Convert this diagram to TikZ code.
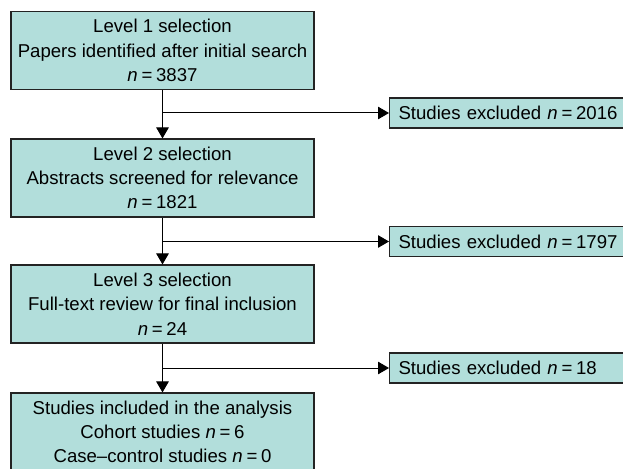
\documentclass[tikz,border=0pt]{standalone}
\usepackage{fontspec}
\setmainfont{Liberation Sans}
\usetikzlibrary{arrows.meta}
\definecolor{boxfill}{RGB}{178,222,219}
\definecolor{boxline}{RGB}{35,35,35}
\newcommand{\nn}[1]{\textit{n}\hspace{0.2em}=\hspace{0.2em}#1}
\begin{document}
\begin{tikzpicture}[x=1pt,y=-1pt,
  mainbox/.style={draw=boxline, fill=boxfill, line width=1.1pt, minimum width=303pt,
    minimum height=78pt, inner sep=0pt, align=center,
    font=\fontsize{18.6}{24.3}\selectfont},
  exbox/.style={draw=boxline, fill=boxfill, line width=1.1pt, minimum width=260pt,
    minimum height=30pt, text width=242pt, inner xsep=9pt, inner ysep=0pt, align=left,
    anchor=west, font=\fontsize{18.6}{24.3}\selectfont},
  conn/.style={line width=1pt, black},
  arr/.style={conn, -{Triangle[length=11pt,width=12.5pt]}}]
\useasboundingbox (0,0) rectangle (623,468);
\clip (0,0) rectangle (623,468);
\node[mainbox] (l1) at (162.5,50.5) {Level 1 selection\\Papers identified after initial search\\\nn{3837}};
\node[mainbox] (l2) at (162.5,178) {Level 2 selection\\Abstracts screened for relevance\\\nn{1821}};
\node[mainbox] (l3) at (162.5,304) {Level 3 selection\\Full-text review for final inclusion\\\nn{24}};
\node[mainbox] (l4) at (162.5,432) {Studies included in the analysis\\Cohort studies \nn{6}\\Case--control studies \nn{0}};
\node[exbox] (e1) at (389,113) {Studies excluded \nn{2016}};
\node[exbox] (e2) at (389,241.5) {Studies excluded \nn{1797}};
\node[exbox] (e3) at (389,368) {Studies excluded \nn{18}};
\coordinate (b1) at (l1.south |- e1.west);
\coordinate (b2) at (l2.south |- e2.west);
\coordinate (b3) at (l3.south |- e3.west);
\draw[arr] (l1.south) -- (l2.north);
\draw[arr] (l2.south) -- (l3.north);
\draw[arr] (l3.south) -- (l4.north);
\draw[arr] (b1) -- (e1.west);
\draw[arr] (b2) -- (e2.west);
\draw[arr] (b3) -- (e3.west);
\end{tikzpicture}
\end{document}
